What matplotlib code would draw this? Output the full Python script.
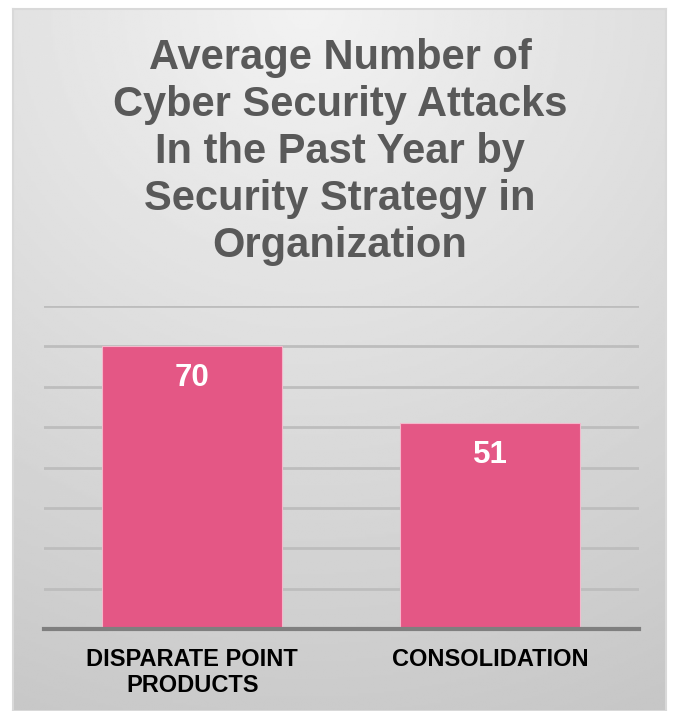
import numpy as np
import matplotlib
matplotlib.use('Agg')
import matplotlib.pyplot as plt

categories = ['DISPARATE POINT\nPRODUCTS', 'CONSOLIDATION']
values = [70, 51]
title = 'Average Number of\nCyber Security Attacks\nIn the Past Year by\nSecurity Strategy in\nOrganization'

plt.rcParams['font.family'] = ['Liberation Sans', 'DejaVu Sans']

fig = plt.figure(figsize=(6.76, 7.11), dpi=100)

# gradient background panel with a thin border
bg = fig.add_axes([13 / 676, 0, 653 / 676, 1 - 9 / 711], zorder=0)
yy, xx = np.mgrid[0:1:300j, 0:1:300j]
dist = np.sqrt(((xx - 0.45) * 1.0) ** 2 + (yy * 1.1) ** 2)
shade = 0.95 - 0.17 * np.clip(dist, 0, 1.2) / 1.2
bg.imshow(shade, cmap='gray', vmin=0, vmax=1, aspect='auto', extent=[0, 1, 1, 0])
bg.set_xticks([])
bg.set_yticks([])
for s in bg.spines.values():
    s.set_color('#D9D9D9')
    s.set_linewidth(1.5)

ax = fig.add_axes([43.5 / 676, 1 - 629 / 711, (639 - 43.5) / 676, (629 - 306) / 711], zorder=1)
ax.patch.set_alpha(0)
x = np.arange(len(categories))
bars = ax.bar(x, values, width=0.605, color='#E45785', edgecolor='#F4B8CC', linewidth=0.8, zorder=3)
ax.set_xlim(-0.5, 1.5)
ax.set_ylim(0, 80)
ax.set_yticks(np.arange(10, 81, 10))
ax.yaxis.grid(True, color='#BDBDBD', linewidth=2, zorder=1)
ax.tick_params(axis='y', left=False, labelleft=False)
ax.tick_params(axis='x', length=0, pad=14)
ax.set_xticks(x)
ax.set_xticklabels(categories, fontsize=17, fontweight='bold', color='black', linespacing=1.15, va='top')
for s in ['top', 'right', 'left']:
    ax.spines[s].set_visible(False)
ax.spines['bottom'].set_color('#7F7F7F')
ax.spines['bottom'].set_linewidth(3)
ax.spines['bottom'].set_zorder(4)

for b, v in zip(bars, values):
    ax.annotate(str(v), (b.get_x() + b.get_width() / 2, v), xytext=(0, -23),
                textcoords='offset points', ha='center', va='center',
                fontsize=22.5, fontweight='bold', color='white', zorder=5)

fig.text(0.503, 1 - 152 / 711, title, ha='center', va='center', fontsize=30,
         fontweight='bold', color='#595959', linespacing=1.23, zorder=2)

fig.savefig('out.png', dpi=100)
